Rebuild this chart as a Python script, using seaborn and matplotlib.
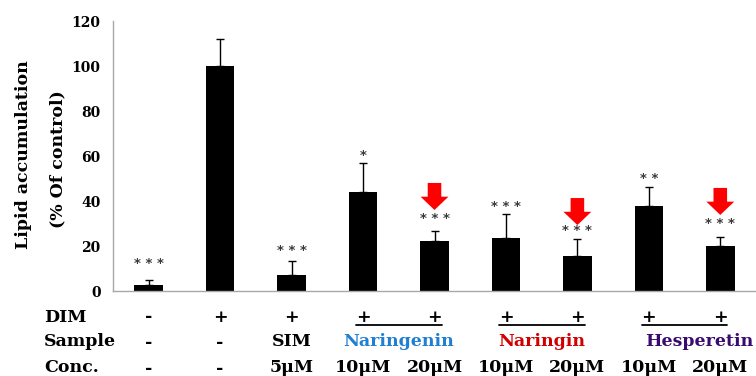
import numpy as np
import pandas as pd
import matplotlib
matplotlib.use("Agg")
import matplotlib.pyplot as plt
import matplotlib.transforms as mtransforms
import seaborn as sns

# ---- data ----
groups = ["Control", "DIM", "SIM 5", "Naringenin 10", "Naringenin 20",
          "Naringin 10", "Naringin 20", "Hesperetin 10", "Hesperetin 20"]
values = [2.8, 100, 7.2, 44, 22.5, 23.7, 15.8, 37.7, 20.0]
errors = [2.2, 12.0, 6.3, 13.0, 4.4, 10.7, 7.3, 8.5, 4.2]
stars = ["***", "", "***", "*", "***", "***", "***", "**", "***"]
star_y = [12.4, 0, 18.3, 60.5, 32.1, 37.6, 27.2, 49.9, 30.3]
arrow_idx = [4, 6, 8]
arrow_top = [48.1, 41.4, 45.9]
arrow_tip = [36.1, 29.4, 33.9]

row_names = ["DIM", "Sample", "Conc."]
dim_row = ["-", "+", "+", "+", "+", "+", "+", "+", "+"]
sample_single = ["-", "-", "SIM"]
sample_groups = ["Naringenin", "Naringin", "Hesperetin"]
sample_colors = ["#1F7FD2", "#D00000", "#3A0A70"]
conc_row = ["-", "-", "5\u03bcM", "10\u03bcM", "20\u03bcM", "10\u03bcM", "20\u03bcM", "10\u03bcM", "20\u03bcM"]
yticks = [0, 20, 40, 60, 80, 100, 120]

df = pd.DataFrame({"group": groups, "value": values})

sns.set_style("white")
plt.rcParams["font.family"] = ["DejaVu Serif"]
plt.rcParams["font.weight"] = "bold"
plt.rcParams["text.color"] = "black"
plt.rcParams["axes.labelcolor"] = "black"

W, H = 756, 376
fig = plt.figure(figsize=(W / 100, H / 100), dpi=100)
ax = fig.add_axes([113 / W, 1 - 291.3 / H, (W - 113) / W, (291.3 - 21) / H])

sns.barplot(data=df, x="group", y="value", order=groups, color="black",
            saturation=1, width=0.4, errorbar=None, ax=ax, edgecolor="none")
xs = np.arange(len(groups))
ax.errorbar(xs, values, yerr=[np.zeros(len(values)), errors], fmt="none",
            ecolor="black", elinewidth=1, capsize=2.8, capthick=1, zorder=5)

for x, s, y in zip(xs, stars, star_y):
    if s:
        ax.text(x, y, " ".join(s), ha="center", va="center", fontsize=9.5,
                color="#3A3A3A", family="DejaVu Sans", fontweight="bold")

for i, t, b in zip(arrow_idx, arrow_top, arrow_tip):
    ax.arrow(i, t, 0, b - t, width=0.19, head_width=0.39, head_length=5.9,
             length_includes_head=True, color="#FF0000", lw=0, zorder=6)

ax.set_xlim(-0.5, len(groups) - 0.5)
ax.set_ylim(0, 120)
ax.set_yticks(yticks)
ax.set_yticklabels([str(v) for v in yticks], fontsize=10, fontweight="bold")
ax.set_xticks(np.arange(-0.5, len(groups), 1))
ax.set_xticklabels([""] * (len(groups) + 1))
ax.set_xlabel("")
ax.set_ylabel("")
for side in ["top", "right"]:
    ax.spines[side].set_visible(False)
for side in ["left", "bottom"]:
    ax.spines[side].set_color("#A8A8A8")
    ax.spines[side].set_linewidth(1)
ax.tick_params(axis="both", direction="out", length=4, width=1, color="#A8A8A8",
               labelcolor="black")
ax.tick_params(axis="y", pad=5)

# y label (two lines)
fig.text(24 / W, 1 - 155 / H, "Lipid accumulation", rotation=90, ha="center",
         va="center", fontsize=12.5, fontweight="bold")
fig.text(58 / W, 1 - 159 / H, "(% Of control)", rotation=90, ha="center",
         va="center", fontsize=12.5, fontweight="bold")

# table below axis
tr = mtransforms.blended_transform_factory(ax.transData, fig.transFigure)
row_y = [317, 342, 368]
fs = 12.5
for name, yp in zip(row_names, row_y):
    fig.text(44 / W, 1 - yp / H, name, ha="left", va="center", fontsize=fs,
             fontweight="bold")
for x, s in zip(xs, dim_row):
    ax.text(x, 1 - row_y[0] / H, s, transform=tr, ha="center", va="center",
            fontsize=fs, fontweight="bold")
for x, s in zip(xs[:3], sample_single):
    ax.text(x, 1 - row_y[1] / H, s, transform=tr, ha="center", va="center",
            fontsize=fs, fontweight="bold")
for k, (s, c) in enumerate(zip(sample_groups, sample_colors)):
    a = 3 + 2 * k
    xc = a + 0.5 if k < 2 else a + 0.71
    ax.text(xc, 1 - row_y[1] / H, s, transform=tr, ha="center", va="center",
            fontsize=fs, fontweight="bold", color=c)
    ax.plot([a - 0.1, a + 1.1], [1 - 325 / H, 1 - 325 / H], transform=tr,
            color="black", lw=1.3, clip_on=False)
for x, s in zip(xs, conc_row):
    ax.text(x, 1 - row_y[2] / H, s, transform=tr, ha="center", va="center",
            fontsize=fs, fontweight="bold")

fig.savefig("out.png", dpi=100)
